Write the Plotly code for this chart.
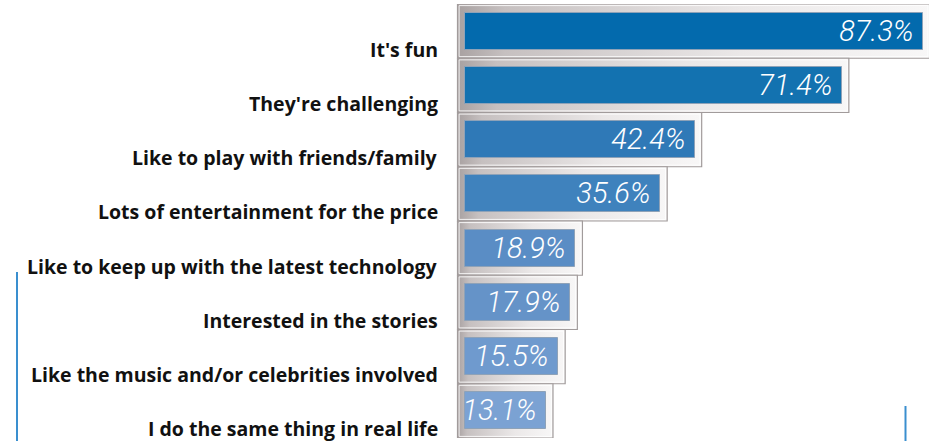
import plotly.graph_objects as go

categories = [
    "It's fun",
    "They're challenging",
    "Like to play with friends/family",
    "Lots of entertainment for the price",
    "Like to keep up with the latest technology",
    "Interested in the stories",
    "Like the music and/or celebrities involved",
    "I do the same thing in real life",
]
values = [87.3, 71.4, 42.4, 35.6, 18.9, 17.9, 15.5, 13.1]
value_labels = ["87.3%", "71.4%", "42.4%", "35.6%", "18.9%", "17.9%", "15.5%", "13.1%"]
bar_colors = ["#036aad", "#1372b0", "#2f79b7", "#3f82bd", "#5a8dc5", "#6593c8", "#6f9ace", "#7ba2d3"]

W, H = 929, 441
ML, MR, MT, MB = 455, 0, 4, 3
PX_PER_UNIT = 5.075          # pixels per percentage point
ZERO_PX = 479.5              # pixel where 0 % would be
INNER_PAD = (ZERO_PX - 465) / PX_PER_UNIT   # inner bar starts a bit left of zero
OUTER_LEFT = (ZERO_PX - 457.5) / PX_PER_UNIT
OUTER_RIGHT_PAD = 7 / PX_PER_UNIT
ROW_PX = (H - MT - MB) / len(categories)

x_min = (ML - ZERO_PX) / PX_PER_UNIT
x_max = (W - MR - ZERO_PX) / PX_PER_UNIT

idx = list(range(len(categories)))

fig = go.Figure()

# outer grey "frames" with horizontal gradient
for i, v in zip(idx, values):
    x0, x1 = -OUTER_LEFT, v + OUTER_RIGHT_PAD
    fig.add_trace(go.Scatter(
        x=[x0, x1, x1, x0, x0],
        y=[i - 0.5, i - 0.5, i + 0.5, i + 0.5, i - 0.5],
        mode="lines",
        fill="toself",
        fillgradient=dict(type="horizontal",
                          colorscale=[[0, "#a8a1a1"], [0.1, "#c6c0c0"], [0.6, "#ebe8e8"], [1, "#f8f7f7"]]),
        line=dict(color="#a19b9b", width=1.2),
        hoverinfo="skip",
        showlegend=False,
    ))
    # white inner highlight
    d = 1.6 / PX_PER_UNIT
    dy = 1.6 / ROW_PX
    fig.add_trace(go.Scatter(
        x=[x0 + d, x1 - d, x1 - d, x0 + d, x0 + d],
        y=[i - 0.5 + dy, i - 0.5 + dy, i + 0.5 - dy, i + 0.5 - dy, i - 0.5 + dy],
        mode="lines",
        line=dict(color="rgba(255,255,255,0.85)", width=1),
        hoverinfo="skip",
        showlegend=False,
    ))

# inner blue bars (on an overlaid axis pair so they sit above the frames)
fig.add_trace(go.Bar(
    x=[v + INNER_PAD for v in values],
    base=-INNER_PAD,
    y=idx,
    orientation="h",
    width=0.68,
    marker=dict(color=bar_colors, line=dict(color="#8ea2b8", width=1)),
    text=value_labels,
    texttemplate="%{text}\u2009",
    textposition="inside",
    insidetextanchor="end",
    constraintext="none",
    textfont=dict(family="Roboto", size=29, color="white", style="italic", weight=300),
    hoverinfo="skip",
    showlegend=False,
    xaxis="x2", yaxis="y2",
))

# category labels
for i, c in zip(idx, categories):
    fig.add_annotation(
        x=0, xref="paper", y=i, yref="y",
        text=c, showarrow=False,
        xanchor="right", yanchor="middle",
        xshift=-15, yshift=-18,
        font=dict(family="Open Sans", size=19.5, color="#111111", weight="bold"),
    )

# decorative blue rules
fig.add_shape(type="line", xref="paper", yref="paper",
              x0=(17 - ML) / (W - ML - MR), x1=(17 - ML) / (W - ML - MR),
              y0=-0.02, y1=(H - MB - 272) / (H - MT - MB),
              line=dict(color="#3a8fcf", width=2))
fig.add_shape(type="line", xref="paper", yref="paper",
              x0=(905.5 - ML) / (W - ML - MR), x1=(905.5 - ML) / (W - ML - MR),
              y0=-0.02, y1=(H - MB - 406) / (H - MT - MB),
              line=dict(color="#3a8fcf", width=2))

xr = [x_min, x_max]
yr = [len(categories) - 0.5, -0.5]
fig.update_layout(
    width=W, height=H,
    margin=dict(l=ML, r=MR, t=MT, b=MB),
    paper_bgcolor="white", plot_bgcolor="white",
    xaxis=dict(range=xr, visible=False, fixedrange=True),
    yaxis=dict(range=yr, visible=False, fixedrange=True),
    xaxis2=dict(range=xr, visible=False, fixedrange=True, overlaying="x"),
    yaxis2=dict(range=yr, visible=False, fixedrange=True, overlaying="y"),
    bargap=0,
)

fig.write_html("out.html", config={"displayModeBar": False},
               post_script="document.body.style.margin='0';")
